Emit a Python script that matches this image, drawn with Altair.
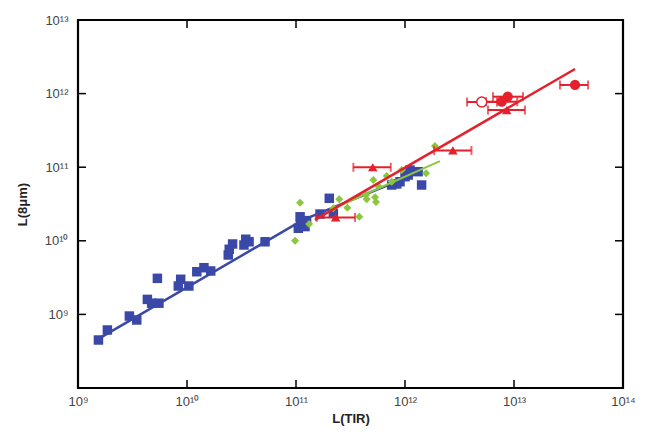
import math
import altair as alt
import pandas as pd

# ---------------- data ----------------
blue_x = [1.54e9, 1.86e9, 2.96e9, 3.46e9, 4.33e9, 4.74e9, 5.53e9, 5.35e9, 8.75e9, 8.32e9,
          1.04e10, 1.23e10, 1.43e10, 1.65e10, 2.39e10, 2.44e10, 2.62e10, 3.33e10, 3.46e10, 3.71e10,
          5.2e10, 1.09e11, 1.10e11, 1.05e11, 1.21e11, 1.25e11, 1.66e11, 2.02e11, 2.2e11, 7.55e11,
          9.0e11, 1.0e12, 1.11e12, 1.32e12, 1.42e12, 1.07e12, 8.4e11]
blue_y = [4.49e8, 6.14e8, 9.5e8, 8.4e8, 1.6e9, 1.42e9, 1.42e9, 3.09e9, 3.0e9, 2.43e9,
          2.43e9, 3.8e9, 4.31e9, 3.89e9, 6.41e9, 7.67e9, 9.05e9, 8.77e9, 1.05e10, 9.7e9,
          9.7e9, 2.12e10, 1.64e10, 1.48e10, 1.56e10, 1.88e10, 2.31e10, 3.78e10, 2.36e10, 5.73e10,
          6.35e10, 7.43e10, 9.16e10, 8.69e10, 5.73e10, 7.83e10, 5.92e10]

green_x = [1.09e11, 9.8e10, 1.32e11, 2.49e11, 2.2e11, 2.96e11, 3.81e11, 4.39e11, 4.45e11,
           5.31e11, 5.42e11, 5.12e11, 5.69e11, 6.79e11, 7.55e11, 9.33e11, 1.56e12, 1.88e12]
green_y = [3.3e10, 1.0e10, 1.69e10, 3.66e10, 2.77e10, 2.82e10, 2.12e10, 4.19e10, 3.66e10,
           3.9e10, 3.37e10, 6.7e10, 5.56e10, 7.59e10, 6.35e10, 9.16e10, 8.26e10, 1.94e11]

red_kind = ["triangle", "triangle", "triangle", "triangle", "circle", "circle", "circle", "open"]
red_x = [5.06e11, 2.31e11, 2.75e12, 8.57e12, 8.75e12, 7.71e12, 3.63e13, 5.06e12]
red_y = [9.98e10, 2.08e10, 1.69e11, 5.98e11, 9.08e11, 7.76e11, 1.31e12, 7.69e11]
red_lo = [3.36e11, 1.55e11, 1.85e12, 5.77e12, 6.41e12, 5.53e12, 2.64e13, 3.71e12]
red_hi = [7.4e11, 3.48e11, 4.07e12, 1.26e13, 1.21e13, 1.07e13, 4.78e13, 6.98e12]

blue_fit_x = [1.43e9, 1.16e11, 1.24e12]
blue_fit_y = [4.36e8, 1.92e10, 8.09e10]
green_fit_x = [2.05e11, 2.09e12]
green_fit_y = [2.62e10, 1.21e11]
red_fit_x = [1.49e11, 3.63e13]
red_fit_y = [1.92e10, 2.16e12]

x_ticks = [1e9, 1e10, 1e11, 1e12, 1e13, 1e14]
y_ticks = [1e9, 1e10, 1e11, 1e12, 1e13]
x_inner = [1e10, 1e11, 1e12, 1e13]
y_inner = [1e9, 1e10, 1e11, 1e12]

BLUE = "#3a49a8"
GREEN = "#8cc63e"
RED = "#e5202a"
FONT = "Liberation Sans"

# ---------------- tables ----------------
blue_df = pd.DataFrame({"x": blue_x, "y": blue_y})
green_df = pd.DataFrame({"x": green_x, "y": green_y})
red_df = pd.DataFrame({"x": red_x, "y": red_y, "lo": red_lo, "hi": red_hi, "kind": red_kind})
bfit = pd.DataFrame({"x": blue_fit_x, "y": blue_fit_y})
gfit = pd.DataFrame({"x": green_fit_x, "y": green_fit_y})
rfit = pd.DataFrame({"x": red_fit_x, "y": red_fit_y})
xt_df = pd.DataFrame({"x": x_inner})
yt_df = pd.DataFrame({"y": y_inner})

W, H = 545, 368
TL = 8

sup = str.maketrans("0123456789", "⁰¹²³⁴⁵⁶⁷⁸⁹")


def label_expr(vals):
    parts = []
    for v in vals:
        e = int(round(math.log10(v)))
        parts.append(f"abs(log(datum.value)/LN10 - {e}) < 0.01 ? '10{str(e).translate(sup)}'")
    return " : ".join(parts) + " : ''"


xscale = alt.Scale(type="log", domain=[1e9, 1e14], nice=False)
yscale = alt.Scale(type="log", domain=[1e8, 1e13], nice=False)

xaxis = alt.Axis(values=x_ticks, labelExpr=label_expr(x_ticks), ticks=False, domain=False,
                 grid=False, labelFlush=False, labelOverlap=False, labelFontSize=13,
                 labelColor="#444", labelFont=FONT, labelPadding=7,
                 titleFont=FONT, titleFontSize=13, titleFontWeight="bold", titleColor="#222",
                 titlePadding=4)
yaxis = alt.Axis(values=y_ticks, labelExpr=label_expr(y_ticks), ticks=False, domain=False,
                 grid=False, labelFlush=False, labelOverlap=False, labelFontSize=13,
                 labelColor="#444", labelFont=FONT, labelPadding=10,
                 titleFont=FONT, titleFontSize=13, titleFontWeight="bold", titleColor="#222",
                 titlePadding=15)


def X(field="x"):
    return alt.X(field, type="quantitative", scale=xscale, axis=xaxis, title="L(TIR)")


def Y(field="y"):
    return alt.Y(field, type="quantitative", scale=yscale, axis=yaxis, title="L(8μm)")


blue_pts = alt.Chart(blue_df).mark_point(shape="square", filled=True, size=90, color=BLUE,
                                         opacity=1).encode(x=X(), y=Y())
blue_line = alt.Chart(bfit).mark_line(color=BLUE, strokeWidth=2.5).encode(x=X(), y=Y())
green_pts = alt.Chart(green_df).mark_point(shape="diamond", filled=True, size=64, color=GREEN,
                                           opacity=1).encode(x=X(), y=Y())
green_line = alt.Chart(gfit).mark_line(color=GREEN, strokeWidth=2).encode(x=X(), y=Y())

err = alt.Chart(red_df).mark_rule(color=RED, strokeWidth=2).encode(
    x=X("lo"), x2="hi", y=Y())
cap_lo = alt.Chart(red_df).mark_tick(color=RED, orient="vertical", size=9, thickness=2).encode(
    x=X("lo"), y=Y())
cap_hi = alt.Chart(red_df).mark_tick(color=RED, orient="vertical", size=9, thickness=2).encode(
    x=X("hi"), y=Y())

red_tri = alt.Chart(red_df).transform_filter("datum.kind == 'triangle'").mark_point(
    shape="triangle-up", filled=True, size=90, color=RED, opacity=1).encode(x=X(), y=Y())
red_circ = alt.Chart(red_df).transform_filter("datum.kind == 'circle'").mark_point(
    shape="circle", filled=True, size=105, color=RED, opacity=1).encode(x=X(), y=Y())
red_open = alt.Chart(red_df).transform_filter("datum.kind == 'open'").mark_point(
    shape="circle", filled=True, size=100, fill="white", stroke=RED, strokeWidth=1.5,
    opacity=1).encode(x=X(), y=Y())
red_line = alt.Chart(rfit).mark_line(color=RED, strokeWidth=2.5).encode(x=X(), y=Y())

# inward tick marks on all four sides
tick_b = alt.Chart(xt_df).mark_rule(color="black", strokeWidth=1.5).encode(
    x=X(), y=alt.value(H), y2=alt.value(H - TL))
tick_t = alt.Chart(xt_df).mark_rule(color="black", strokeWidth=1.5).encode(
    x=X(), y=alt.value(0), y2=alt.value(TL))
tick_l = alt.Chart(yt_df).mark_rule(color="black", strokeWidth=1.5).encode(
    y=Y(), x=alt.value(0), x2=alt.value(TL))
tick_r = alt.Chart(yt_df).mark_rule(color="black", strokeWidth=1.5).encode(
    y=Y(), x=alt.value(W), x2=alt.value(W - TL))

chart = alt.layer(
    tick_b, tick_t, tick_l, tick_r,
    blue_pts, blue_line, green_pts, green_line,
    err, cap_lo, cap_hi, red_line, red_tri, red_circ, red_open,
).properties(
    width=W, height=H,
    autosize=alt.AutoSizeParams(type="none"),
    padding={"left": 70, "top": 12, "right": 19, "bottom": 41},
    background="white",
).configure_view(stroke="black", strokeWidth=2.2)

chart.save("out.html", embed_options={"renderer": "svg", "actions": False})
